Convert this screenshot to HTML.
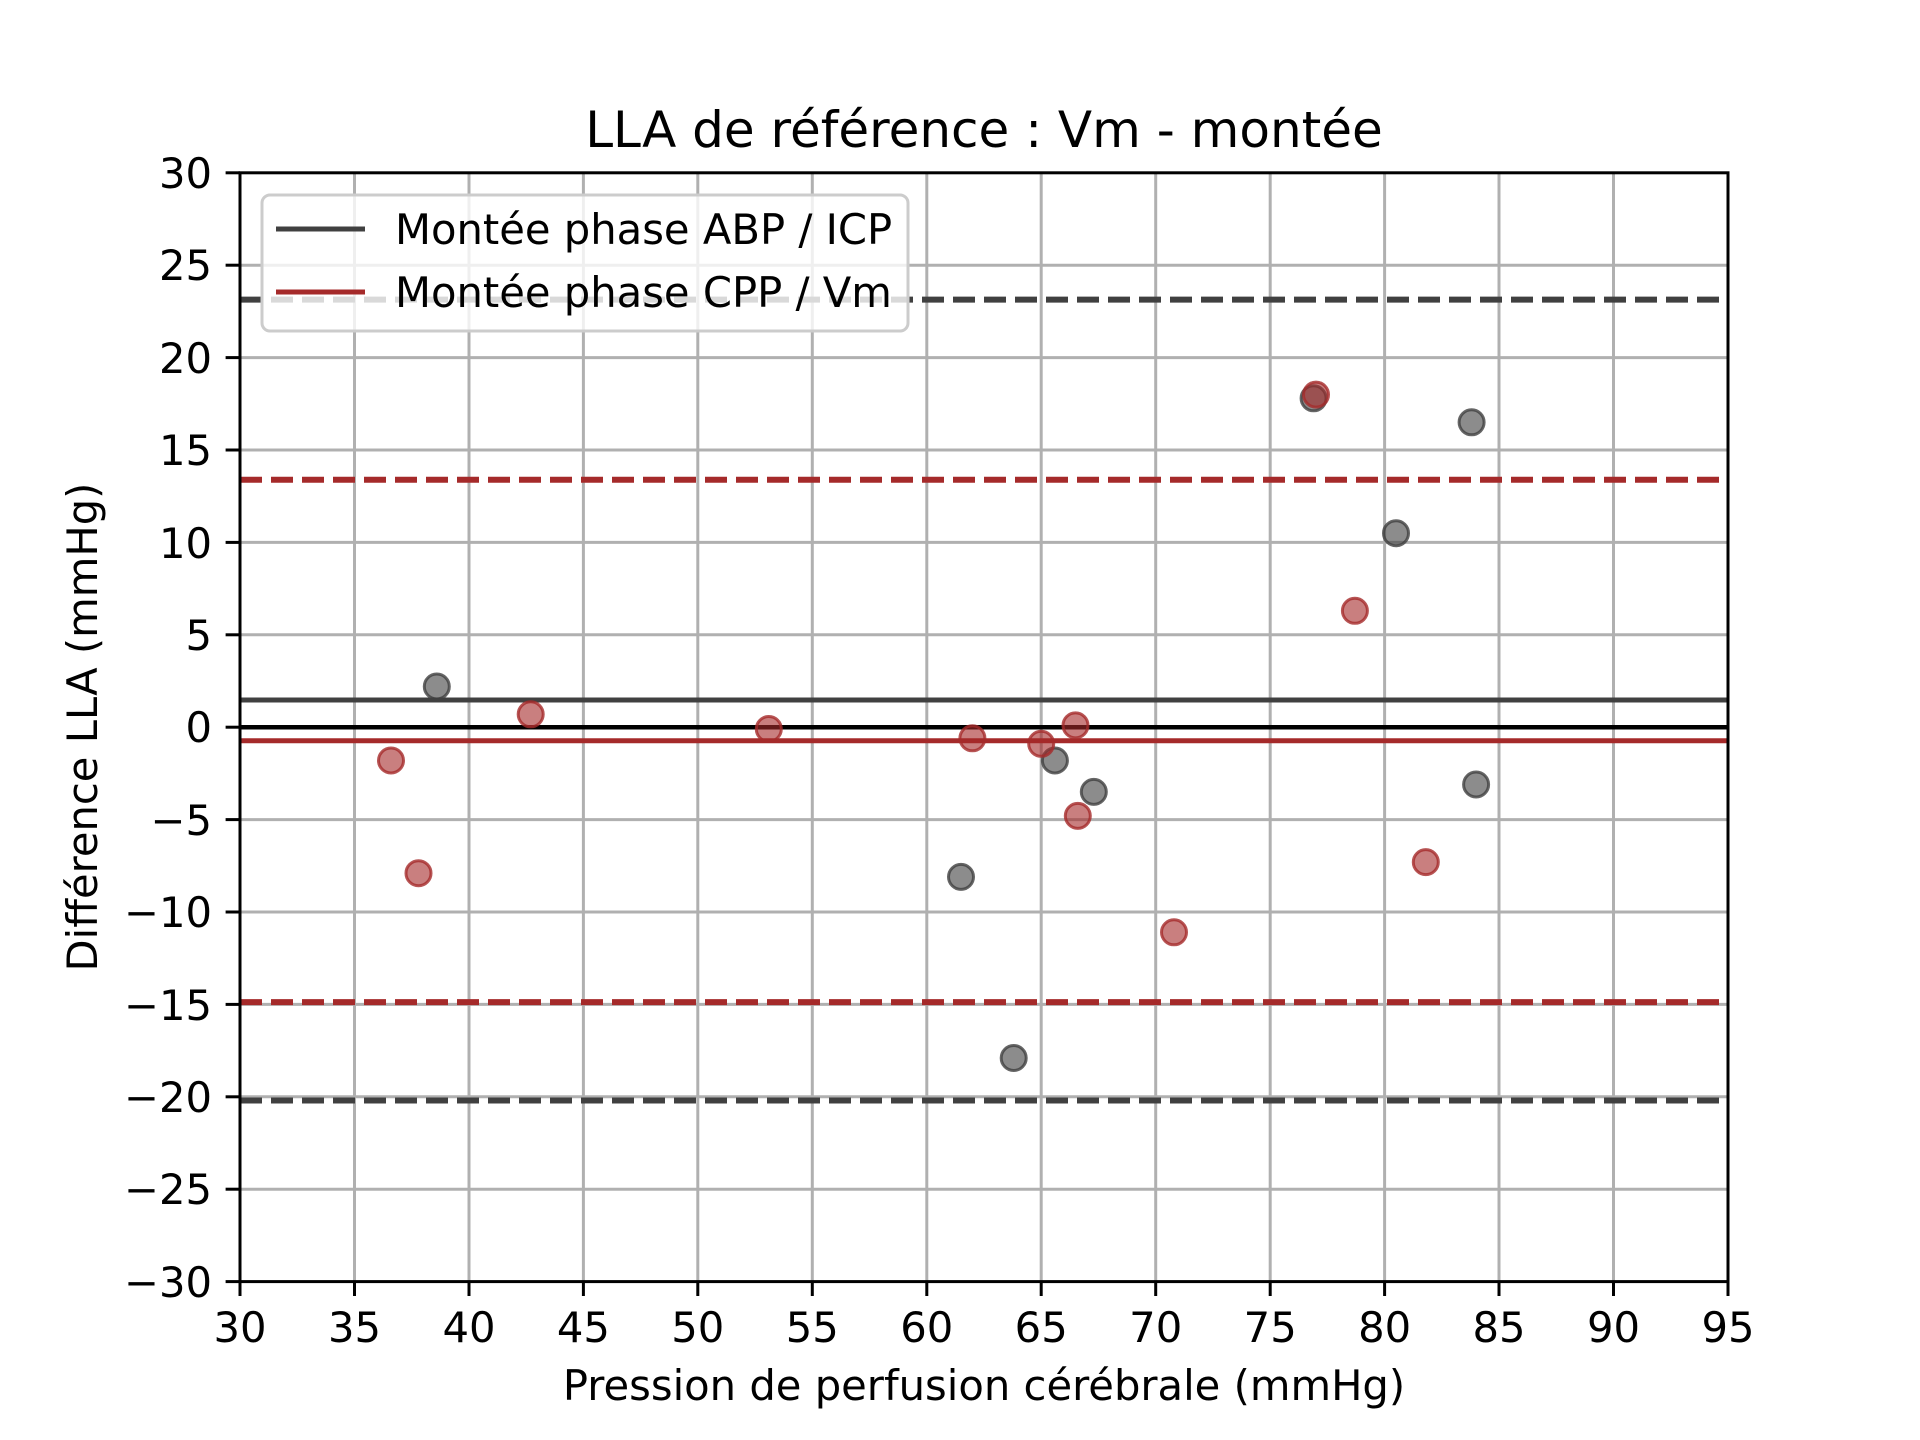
<!DOCTYPE html>
<html><head><meta charset="utf-8"><style>
html,body{margin:0;padding:0;background:#fff;}
svg{display:block;font-family:"DejaVu Sans","Liberation Sans",sans-serif;}
</style></head><body>
<svg width="1920" height="1440" viewBox="0 0 1920 1440" xmlns="http://www.w3.org/2000/svg">
<rect width="1920" height="1440" fill="#fff"/>
<g id="grid" stroke="#b0b0b0" stroke-width="3">
<line x1="354.5" y1="172.8" x2="354.5" y2="1281.6"/><line x1="469" y1="172.8" x2="469" y2="1281.6"/><line x1="583.4" y1="172.8" x2="583.4" y2="1281.6"/><line x1="697.8" y1="172.8" x2="697.8" y2="1281.6"/><line x1="812.3" y1="172.8" x2="812.3" y2="1281.6"/><line x1="926.8" y1="172.8" x2="926.8" y2="1281.6"/><line x1="1041.2" y1="172.8" x2="1041.2" y2="1281.6"/><line x1="1155.7" y1="172.8" x2="1155.7" y2="1281.6"/><line x1="1270.2" y1="172.8" x2="1270.2" y2="1281.6"/><line x1="1384.6" y1="172.8" x2="1384.6" y2="1281.6"/><line x1="1499" y1="172.8" x2="1499" y2="1281.6"/><line x1="1613.5" y1="172.8" x2="1613.5" y2="1281.6"/>
<line x1="240" y1="265.2" x2="1728" y2="265.2"/><line x1="240" y1="357.6" x2="1728" y2="357.6"/><line x1="240" y1="450" x2="1728" y2="450"/><line x1="240" y1="542.4" x2="1728" y2="542.4"/><line x1="240" y1="634.8" x2="1728" y2="634.8"/><line x1="240" y1="727.2" x2="1728" y2="727.2"/><line x1="240" y1="819.6" x2="1728" y2="819.6"/><line x1="240" y1="912" x2="1728" y2="912"/><line x1="240" y1="1004.4" x2="1728" y2="1004.4"/><line x1="240" y1="1096.8" x2="1728" y2="1096.8"/><line x1="240" y1="1189.2" x2="1728" y2="1189.2"/>
</g>
<g fill="none">
<line x1="240" y1="700.0" x2="1728" y2="700.0" stroke="#404040" stroke-width="5"/>
<line x1="240" y1="299.6" x2="1728" y2="299.6" stroke="#404040" stroke-width="6" stroke-dasharray="22,9"/>
<line x1="240" y1="1100.5" x2="1728" y2="1100.5" stroke="#404040" stroke-width="6" stroke-dasharray="22,9"/>
<line x1="240" y1="740.7" x2="1728" y2="740.7" stroke="#a52a2a" stroke-width="5"/>
<line x1="240" y1="479.8" x2="1728" y2="479.8" stroke="#a52a2a" stroke-width="6" stroke-dasharray="22,9"/>
<line x1="240" y1="1002.1" x2="1728" y2="1002.1" stroke="#a52a2a" stroke-width="6" stroke-dasharray="22,9"/>
<line x1="240" y1="727.2" x2="1728" y2="727.2" stroke="#000" stroke-width="4.5"/>
</g>
<g stroke-width="3" fill-opacity="0.6" stroke-opacity="0.8">
<g fill="#404040" stroke="#404040">
<circle cx="436.8" cy="686.5" r="12.5"/><circle cx="961.0" cy="876.9" r="12.5"/><circle cx="1013.7" cy="1058.0" r="12.5"/><circle cx="1054.9" cy="760.5" r="12.5"/><circle cx="1093.8" cy="791.9" r="12.5"/><circle cx="1313.6" cy="398.3" r="12.5"/><circle cx="1396.0" cy="533.2" r="12.5"/><circle cx="1471.6" cy="422.3" r="12.5"/><circle cx="1476.1" cy="784.5" r="12.5"/>
</g>
<g fill="#a52a2a" stroke="#a52a2a">
<circle cx="391.0" cy="760.5" r="12.5"/><circle cx="418.5" cy="873.2" r="12.5"/><circle cx="530.7" cy="714.3" r="12.5"/><circle cx="768.8" cy="729.0" r="12.5"/><circle cx="972.4" cy="738.3" r="12.5"/><circle cx="1041.2" cy="743.8" r="12.5"/><circle cx="1075.5" cy="725.4" r="12.5"/><circle cx="1077.8" cy="815.9" r="12.5"/><circle cx="1174.0" cy="932.3" r="12.5"/><circle cx="1316.0" cy="394.6" r="12.5"/><circle cx="1354.9" cy="610.8" r="12.5"/><circle cx="1425.8" cy="862.1" r="12.5"/>
</g>
</g>
<rect x="240" y="172.8" width="1488" height="1108.8" fill="none" stroke="#000" stroke-width="3"/>
<g stroke="#000" stroke-width="3">
<line x1="240" y1="1281.6" x2="240" y2="1296"/><line x1="354.5" y1="1281.6" x2="354.5" y2="1296"/><line x1="469" y1="1281.6" x2="469" y2="1296"/><line x1="583.4" y1="1281.6" x2="583.4" y2="1296"/><line x1="697.8" y1="1281.6" x2="697.8" y2="1296"/><line x1="812.3" y1="1281.6" x2="812.3" y2="1296"/><line x1="926.8" y1="1281.6" x2="926.8" y2="1296"/><line x1="1041.2" y1="1281.6" x2="1041.2" y2="1296"/><line x1="1155.7" y1="1281.6" x2="1155.7" y2="1296"/><line x1="1270.2" y1="1281.6" x2="1270.2" y2="1296"/><line x1="1384.6" y1="1281.6" x2="1384.6" y2="1296"/><line x1="1499" y1="1281.6" x2="1499" y2="1296"/><line x1="1613.5" y1="1281.6" x2="1613.5" y2="1296"/><line x1="1728" y1="1281.6" x2="1728" y2="1296"/>
<line x1="225.6" y1="172.8" x2="240" y2="172.8"/><line x1="225.6" y1="265.2" x2="240" y2="265.2"/><line x1="225.6" y1="357.6" x2="240" y2="357.6"/><line x1="225.6" y1="450" x2="240" y2="450"/><line x1="225.6" y1="542.4" x2="240" y2="542.4"/><line x1="225.6" y1="634.8" x2="240" y2="634.8"/><line x1="225.6" y1="727.2" x2="240" y2="727.2"/><line x1="225.6" y1="819.6" x2="240" y2="819.6"/><line x1="225.6" y1="912" x2="240" y2="912"/><line x1="225.6" y1="1004.4" x2="240" y2="1004.4"/><line x1="225.6" y1="1096.8" x2="240" y2="1096.8"/><line x1="225.6" y1="1189.2" x2="240" y2="1189.2"/><line x1="225.6" y1="1281.6" x2="240" y2="1281.6"/>
</g>
<g font-size="41.7" fill="#000" text-anchor="middle">
<text x="240" y="1342">30</text><text x="354.5" y="1342">35</text><text x="469" y="1342">40</text><text x="583.4" y="1342">45</text><text x="697.8" y="1342">50</text><text x="812.3" y="1342">55</text><text x="926.8" y="1342">60</text><text x="1041.2" y="1342">65</text><text x="1155.7" y="1342">70</text><text x="1270.2" y="1342">75</text><text x="1384.6" y="1342">80</text><text x="1499" y="1342">85</text><text x="1613.5" y="1342">90</text><text x="1728" y="1342">95</text>
</g>
<g font-size="41.7" fill="#000" text-anchor="end">
<text x="212" y="188">30</text><text x="212" y="280">25</text><text x="212" y="373">20</text><text x="212" y="465">15</text><text x="212" y="558">10</text><text x="212" y="650">5</text><text x="212" y="742">0</text><text x="212" y="835">−5</text><text x="212" y="927">−10</text><text x="212" y="1020">−15</text><text x="212" y="1112">−20</text><text x="212" y="1204">−25</text><text x="212" y="1297">−30</text>
</g>
<text x="984" y="1400" font-size="41.7" text-anchor="middle">Pression de perfusion cérébrale (mmHg)</text>
<text transform="translate(97,727) rotate(-90)" font-size="41.7" text-anchor="middle">Différence LLA (mmHg)</text>
<text x="984" y="147" font-size="50" text-anchor="middle">LLA de référence : Vm - montée</text>
<rect x="262" y="195" width="646" height="136" rx="8" fill="#fff" fill-opacity="0.8" stroke="#ccc" stroke-width="3"/>
<line x1="276" y1="229" x2="365" y2="229" stroke="#404040" stroke-width="5"/>
<line x1="276" y1="292" x2="365" y2="292" stroke="#a52a2a" stroke-width="5"/>
<text x="395" y="244" font-size="41.7">Montée phase ABP / ICP</text>
<text x="395" y="307" font-size="41.7">Montée phase CPP / Vm</text>
</svg>
</body></html>
